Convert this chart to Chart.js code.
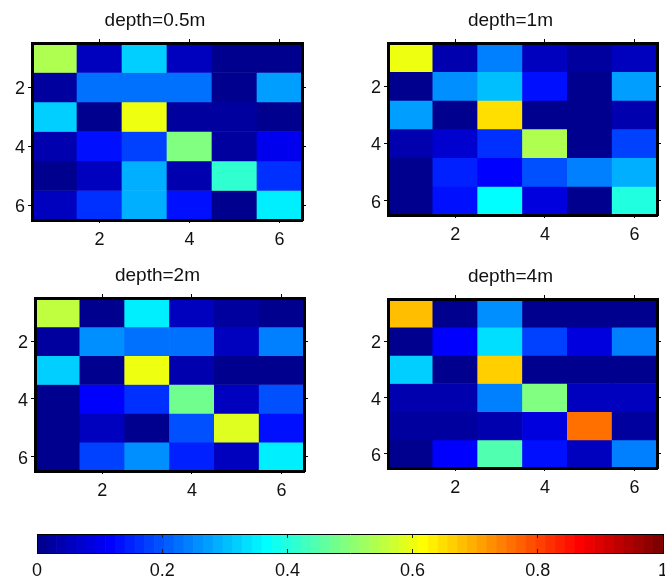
<!DOCTYPE html>
<html>
<head>
<meta charset="utf-8">
<script src="https://cdn.jsdelivr.net/npm/chart.js@4.4.1/dist/chart.umd.min.js"></script>
<style>
  html, body { margin: 0; padding: 0; background: #fff; overflow: hidden; }
  body { width: 665px; height: 579px; position: relative; }
  canvas { position: absolute; }
</style>
</head>
<body>
<canvas id="p1"></canvas>
<canvas id="p2"></canvas>
<canvas id="p3"></canvas>
<canvas id="p4"></canvas>
<canvas id="cbar"></canvas>
<script>
// grid rows (top to bottom) and columns (left to right)
const rows = [1, 2, 3, 4, 5, 6];
const cols = [1, 2, 3, 4, 5, 6];
const axisTicks = [2, 4, 6];
const colorbarTicks = [0, 0.2, 0.4, 0.6, 0.8, 1];
const titles = ["depth=0.5m", "depth=1m", "depth=2m", "depth=4m"];

// cell values, one row per line
const depth05 = [
  [0.54, 0.05, 0.315, 0.05, 0.0, 0.01],
  [0.02, 0.225, 0.225, 0.225, 0.0, 0.28],
  [0.315, 0.0, 0.60, 0.02, 0.02, 0.005],
  [0.04, 0.13, 0.18, 0.49, 0.02, 0.10],
  [0.005, 0.05, 0.29, 0.04, 0.41, 0.16],
  [0.06, 0.16, 0.29, 0.13, 0.0, 0.35]
];
const depth1 = [
  [0.60, 0.04, 0.24, 0.05, 0.02, 0.05],
  [0.01, 0.255, 0.30, 0.13, 0.0, 0.27],
  [0.27, 0.0, 0.645, 0.0, 0.0, 0.04],
  [0.04, 0.07, 0.16, 0.54, 0.005, 0.18],
  [0.0, 0.15, 0.115, 0.19, 0.24, 0.29],
  [0.01, 0.13, 0.365, 0.09, 0.0, 0.40]
];
const depth2 = [
  [0.55, 0.0, 0.35, 0.05, 0.02, 0.005],
  [0.02, 0.255, 0.225, 0.225, 0.05, 0.24],
  [0.32, 0.0, 0.60, 0.04, 0.0, 0.01],
  [0.005, 0.115, 0.16, 0.475, 0.05, 0.19],
  [0.0, 0.06, 0.005, 0.19, 0.59, 0.13],
  [0.01, 0.18, 0.255, 0.15, 0.05, 0.35]
];
const depth4 = [
  [0.68, 0.0, 0.255, 0.005, 0.01, 0.0],
  [0.01, 0.115, 0.335, 0.18, 0.09, 0.24],
  [0.32, 0.0, 0.66, 0.0, 0.0, 0.0],
  [0.04, 0.04, 0.24, 0.49, 0.06, 0.06],
  [0.03, 0.02, 0.04, 0.08, 0.755, 0.03],
  [0.0, 0.115, 0.44, 0.13, 0.05, 0.24]
];

const FONT = "'Liberation Sans', Arial, Helvetica, sans-serif";
const INK = "#111";

// matlab jet(64)
function jet(v) {
  const k = Math.min(63, Math.max(0, Math.floor(v * 64)));
  const x = (k + 1) / 64;
  const c = t => Math.round(255 * Math.min(1, Math.max(0, 1.5 - Math.abs(4 * x - t))));
  return `rgb(${c(3)},${c(2)},${c(1)})`;
}

// plot area of each panel in page pixels: left, top, right, bottom
const panels = [
  { id: "p1", title: titles[0], values: depth05, area: [32, 43, 302, 220] },
  { id: "p2", title: titles[1], values: depth1, area: [388, 43, 657, 215] },
  { id: "p3", title: titles[2], values: depth2, area: [35, 298, 304, 471] },
  { id: "p4", title: titles[3], values: depth4, area: [388, 299, 657, 468] }
];

function axis(position, size, tick, pad, labels) {
  const horiz = position === "top" || position === "bottom";
  return {
    type: "linear",
    position: position,
    min: 0.5,
    max: 6.5,
    offset: false,
    reverse: !horiz,
    afterBuildTicks: s => { s.ticks = axisTicks.map(v => ({ value: v })); },
    afterFit: s => {
      if (horiz) s.height = size; else s.width = size;
      s.paddingLeft = s.paddingRight = s.paddingTop = s.paddingBottom = 0;
    },
    grid: { drawOnChartArea: false, offset: false, color: "#000", tickLength: tick, lineWidth: 1 },
    border: { color: "#000", width: 3, z: 1 },
    ticks: {
      display: labels,
      padding: pad,
      color: INK,
      labelOffset: horiz ? 0 : 2,
      maxRotation: 0,
      autoSkip: false,
      font: { family: FONT, size: 18 }
    }
  };
}

function makePanel(p) {
  const [l, t, r, b] = p.area;
  const cv = document.getElementById(p.id);
  cv.width = r - l + 40;
  cv.height = b - t + 77;
  cv.style.left = (l - 32) + "px";
  cv.style.top = (t - 43) + "px";

  const datasets = rows.map((row, i) => ({
    data: cols.map(c => ({ x: c, y: [row - 0.5, row + 0.5] })),
    backgroundColor: p.values[i].map(jet),
    grouped: false,
    barPercentage: 1,
    categoryPercentage: 1,
    borderWidth: 0
  }));

  new Chart(cv, {
    type: "bar",
    data: { datasets: datasets },
    options: {
      responsive: false,
      animation: false,
      devicePixelRatio: 1,
      plugins: {
        legend: { display: false },
        tooltip: { enabled: false },
        title: {
          display: true,
          text: p.title,
          color: INK,
          font: { family: FONT, size: 19, weight: "normal", lineHeight: 1.2 },
          padding: { top: 9, bottom: 5.2 }
        }
      },
      scales: {
        x: axis("bottom", 34, 3, 6, true),
        y: axis("left", 32, 4, 3, true),
        x2: axis("top", 6, 4, 0, false),
        y2: axis("right", 8, 4, 0, false)
      }
    }
  });
}

panels.forEach(makePanel);

// colorbar
const levels = Array.from({ length: 64 }, (_, k) => (k + 0.5) / 64);
const cbArea = [37, 534, 663, 553];

function cbSide(position, size) {
  return {
    type: "linear",
    position: position,
    min: 0,
    max: 1,
    offset: false,
    display: true,
    afterFit: s => {
      if (position === "top") s.height = size; else s.width = size;
      s.paddingLeft = s.paddingRight = s.paddingTop = s.paddingBottom = 0;
    },
    grid: { display: false },
    border: { color: "#000", width: 1, z: 1 },
    ticks: { display: false }
  };
}

(function () {
  const [l, t, r, b] = cbArea;
  const cv = document.getElementById("cbar");
  cv.width = r - l + 10;
  cv.height = b - t + 31;
  cv.style.left = (l - 5) + "px";
  cv.style.top = (t - 5) + "px";

  new Chart(cv, {
    type: "bar",
    data: {
      datasets: [{
        data: levels.map(v => ({ x: v, y: 1 })),
        backgroundColor: levels.map(jet),
        grouped: false,
        barPercentage: 1,
        categoryPercentage: 1,
        borderWidth: 0
      }]
    },
    options: {
      responsive: false,
      animation: false,
      devicePixelRatio: 1,
      plugins: { legend: { display: false }, tooltip: { enabled: false } },
      scales: {
        x: {
          type: "linear",
          position: "bottom",
          min: 0,
          max: 1,
          offset: false,
          afterBuildTicks: s => { s.ticks = colorbarTicks.map(v => ({ value: v })); },
          afterFit: s => {
            s.height = 26;
            s.paddingLeft = s.paddingRight = s.paddingTop = s.paddingBottom = 0;
          },
          grid: {
            drawOnChartArea: true,
            drawTicks: false,
            offset: false,
            z: 1,
            lineWidth: 1,
            color: c => (c.tick && c.tick.value > 0 && c.tick.value < 1) ? "#222" : "rgba(0,0,0,0)"
          },
          border: { color: "#000", width: 1, dash: [4, 11], z: 1 },
          ticks: {
            padding: 7,
            color: INK,
            maxRotation: 0,
            autoSkip: false,
            font: { family: FONT, size: 18 },
            callback: v => String(v)
          }
        },
        y: cbSide("left", 5),
        x2: cbSide("top", 5),
        y2: cbSide("right", 5)
      }
    }
  });
})();
</script>
</body>
</html>
